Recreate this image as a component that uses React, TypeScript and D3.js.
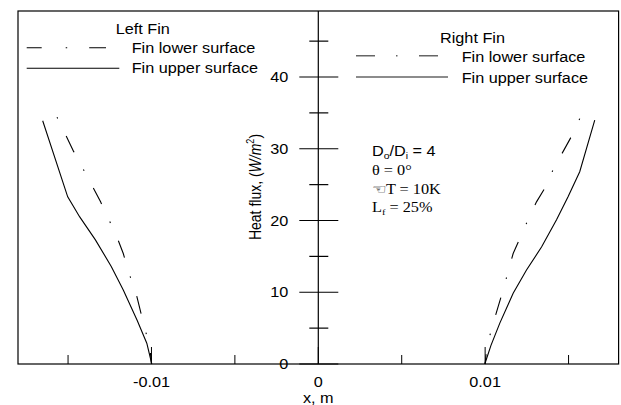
import React from "react";
import * as d3 from "d3";

// ---- data (x in m, heat flux in W/m^2) ----
const leftUpperX = [-0.01652, -0.01502, -0.0143, -0.01336, -0.01241, -0.01169, -0.01086, -0.01028, -0.00998];
const leftUpperY = [33.9, 23.3, 20.5, 17.3, 13.6, 10.3, 6.1, 2.9, 0];
const leftLowerX = [-0.01566, -0.01514, -0.01466, -0.01412, -0.01352, -0.01305, -0.01257, -0.01212, -0.01169, -0.01138, -0.01092, -0.01045, -0.0101, -0.01];
const leftLowerY = [34.4, 31.9, 29.6, 27.3, 24.7, 22.6, 20.2, 18.0, 15.4, 12.9, 9.8, 5.4, 2.4, 0];
const rightUpperX = [0.01657, 0.01567, 0.01497, 0.01428, 0.01338, 0.01248, 0.01168, 0.01088, 0.01035, 0.00998];
const rightUpperY = [34.0, 26.8, 23.3, 20.1, 16.3, 13.1, 9.85, 5.7, 2.6, 0];
const rightLowerX = [0.01567, 0.01517, 0.01467, 0.01411, 0.01368, 0.01308, 0.01257, 0.01208, 0.01168, 0.01138, 0.01108, 0.01078, 0.01044, 0.0101, 0.01];
const rightLowerY = [34.2, 31.7, 29.6, 27.3, 24.9, 22.6, 20.1, 17.5, 15.4, 12.9, 10.3, 8.0, 5.3, 2.4, 0];

const xMajorTicks = [-0.01, 0, 0.01];
const xMinorTicks = [-0.015, -0.005, 0.005, 0.015];
const xTickLabels = ["-0.01", "0", "0.01"];
const yMajorTicks = [0, 10, 20, 30, 40];
const yMinorTicks = [5, 15, 25, 35, 45];

const SANS = "'Liberation Sans', Arial, sans-serif";
const SERIF = "'Liberation Serif', 'Times New Roman', serif";
const SX = 1.16;

const W = 621, H = 405;
const plot = { left: 18, right: 618.6, top: 11, bottom: 364 };

function T({ x, y, anchor = "start", size = 14, family = SANS, children, rotate = 0 }: any) {
  return (
    <text
      transform={`translate(${x},${y}) scale(${SX},1)${rotate ? ` rotate(${rotate})` : ""}`}
      textAnchor={anchor}
      fontFamily={family}
      fontSize={size}
      fill="#000"
    >
      {children}
    </text>
  );
}

export default function App() {
  const x = d3.scaleLinear().domain([-0.018, 0.018]).range([plot.left, plot.right]);
  const y = d3.scaleLinear().domain([0, 49.2]).range([plot.bottom, plot.top]);
  const x0 = x(0);

  const line = d3
    .line<[number, number]>()
    .x((d) => x(d[0]))
    .y((d) => y(d[1]));
  const zip = (a: number[], b: number[]) => a.map((v, i) => [v, b[i]] as [number, number]);

  const dashDot = "1.5,19.5,18,19.5";

  return (
    <svg width={W} height={H} style={{ position: "absolute", left: 0, top: 0, background: "#fff" }}>
      <rect x={0} y={0} width={W} height={H} fill="#fff" />
      {/* frame */}
      <rect
        x={plot.left}
        y={plot.top}
        width={plot.right - plot.left}
        height={plot.bottom - plot.top}
        fill="none"
        stroke="#000"
        strokeWidth={1.2}
      />
      {/* y axis through x=0 */}
      <line x1={x0} x2={x0} y1={plot.top} y2={plot.bottom} stroke="#000" strokeWidth={1.2} />
      {yMajorTicks.map((t) => (
        <g key={"ym" + t}>
          <line x1={x0 - 19} x2={x0 + 20} y1={y(t)} y2={y(t)} stroke="#000" strokeWidth={1.2} />
          <T x={x0 - 30} y={y(t) + 5} anchor="end">{t}</T>
        </g>
      ))}
      {yMinorTicks.map((t) => (
        <line key={"yn" + t} x1={x0 - 9} x2={x0 + 10} y1={y(t)} y2={y(t)} stroke="#000" strokeWidth={1.2} />
      ))}
      {/* x ticks */}
      {xMajorTicks.map((t, i) => (
        <g key={"xm" + t}>
          <line x1={x(t)} x2={x(t)} y1={plot.bottom} y2={plot.bottom - 17} stroke="#000" strokeWidth={1} />
          <T x={x(t)} y={plot.bottom + 23} anchor="middle">{xTickLabels[i]}</T>
        </g>
      ))}
      {xMinorTicks.map((t) => (
        <line key={"xn" + t} x1={x(t)} x2={x(t)} y1={plot.bottom} y2={plot.bottom - 9} stroke="#000" strokeWidth={1} />
      ))}
      <T x={x0} y={403} anchor="middle">x, m</T>
      {/* y title */}
      <text
        transform={`translate(261,187) scale(${SX},1) rotate(-90)`}
        textAnchor="middle"
        fontFamily={SANS}
        fontSize={14}
      >
        Heat flux, (<tspan fontStyle="italic">W/m</tspan>
        <tspan fontSize={9} dy={-6}>2</tspan>
        <tspan dy={6}>)</tspan>
      </text>

      {/* curves */}
      <path d={line(zip(leftUpperX, leftUpperY)) || ""} fill="none" stroke="#000" strokeWidth={1.1} />
      <path d={line(zip(leftLowerX, leftLowerY)) || ""} fill="none" stroke="#000" strokeWidth={1.1} strokeDasharray={dashDot} />
      <path d={line(zip(rightUpperX, rightUpperY)) || ""} fill="none" stroke="#000" strokeWidth={1.1} />
      <path d={line(zip(rightLowerX, rightLowerY)) || ""} fill="none" stroke="#000" strokeWidth={1.1} strokeDasharray={dashDot} />

      {/* left legend */}
      <T x={115.7} y={34.3}>Left Fin</T>
      <line x1={26.7} x2={106} y1={47.7} y2={47.7} stroke="#000" strokeWidth={1.1} strokeDasharray="15,24,1.5,22,17" />
      <T x={131.7} y={52.7}>Fin lower surface</T>
      <line x1={26.7} x2={119.3} y1={68.3} y2={68.3} stroke="#000" strokeWidth={1.1} />
      <T x={131.7} y={73.3}>Fin upper surface</T>

      {/* right legend */}
      <T x={440} y={43.3}>Right Fin</T>
      <line x1={356} x2={438} y1={55.7} y2={55.7} stroke="#666" strokeWidth={1.4} strokeDasharray="19,21,1.5,21.5,19" />
      <T x={461.7} y={61.7}>Fin lower surface</T>
      <line x1={356} x2={448} y1={77} y2={77} stroke="#666" strokeWidth={1.6} />
      <T x={461.7} y={82.7}>Fin upper surface</T>

      {/* annotation */}
      <T x={372} y={156} family={SANS}>
        D<tspan fontSize={9} dy={3}>o</tspan>
        <tspan dy={-3}>/D</tspan>
        <tspan fontSize={9} dy={3}>i</tspan>
        <tspan dy={-3}> = 4</tspan>
      </T>
      <T x={372} y={175} family={SERIF}>θ = 0°</T>
      <T x={372} y={194} family={SERIF}>☜T = 10K</T>
      <T x={372} y={212} family={SERIF}>
        L<tspan fontSize={9} dy={3}>f</tspan>
        <tspan dy={-3}> = 25%</tspan>
      </T>
    </svg>
  );
}
